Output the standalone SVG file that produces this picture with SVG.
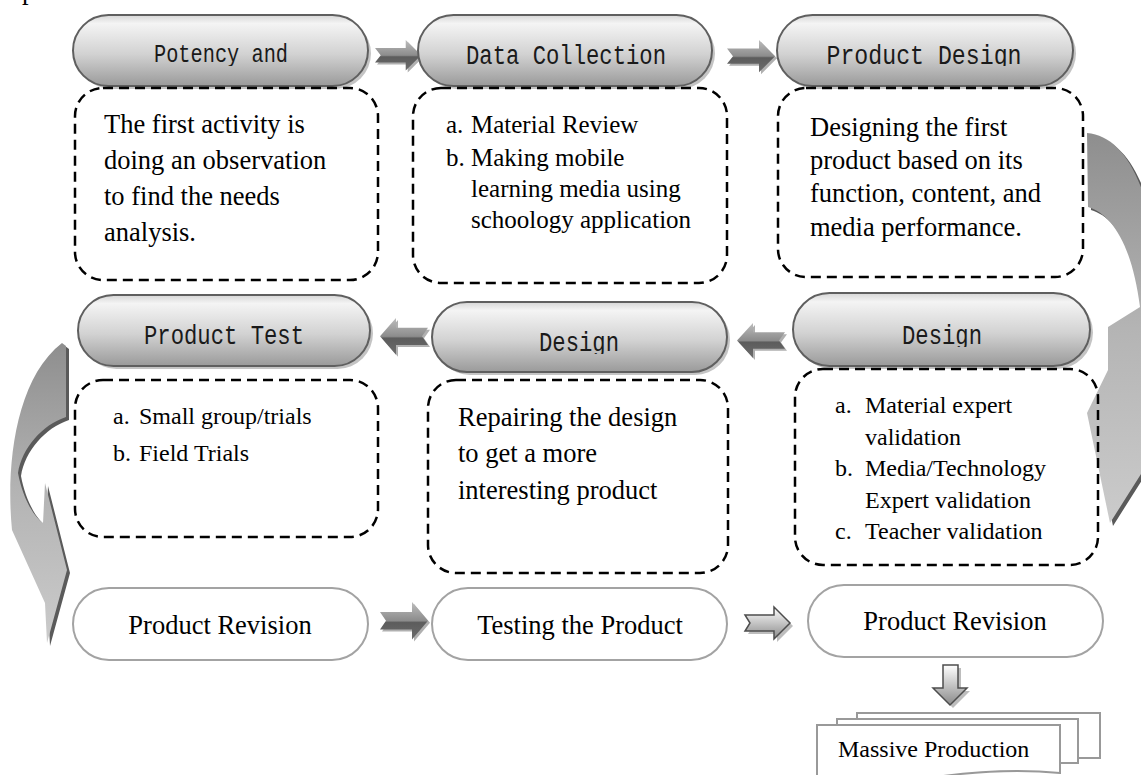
<svg xmlns="http://www.w3.org/2000/svg" xmlns:xlink="http://www.w3.org/1999/xlink" width="1141" height="775" viewBox="0 0 1141 775">
<defs>
  <linearGradient id="pillGrad" x1="0" y1="0" x2="0" y2="1">
    <stop offset="0" stop-color="#d6d6d6"/>
    <stop offset="0.12" stop-color="#f4f4f4"/>
    <stop offset="0.55" stop-color="#d2d2d2"/>
    <stop offset="1" stop-color="#9a9a9a"/>
  </linearGradient>
  <linearGradient id="arrGrad" x1="0" y1="0" x2="0" y2="1">
    <stop offset="0" stop-color="#bdbdbd"/>
    <stop offset="0.5" stop-color="#8c8c8c"/>
    <stop offset="0.55" stop-color="#5c5c5c"/>
    <stop offset="1" stop-color="#6c6c6c"/>
  </linearGradient>
  <linearGradient id="outArrGrad" x1="0" y1="0" x2="0" y2="1">
    <stop offset="0" stop-color="#ffffff"/>
    <stop offset="1" stop-color="#8a8a8a"/>
  </linearGradient>
  <linearGradient id="curveGrad" x1="0" y1="0" x2="0" y2="1">
    <stop offset="0" stop-color="#8e8e8e"/>
    <stop offset="0.5" stop-color="#b4b4b4"/>
    <stop offset="1" stop-color="#cbcbcb"/>
  </linearGradient>
  <path id="blockArrow" d="M0,9 L32,9 L32,0 L48,17 L32,34 L32,25 L0,25 L6,17 Z"/>
  <path id="outArrow" d="M0,8 L29,8 L29,0 L45,16 L29,32 L29,24 L0,24 L5,16 Z"/>
  <clipPath id="clipRow1"><rect x="0" y="0" width="1141" height="66"/></clipPath>
  <clipPath id="clipP5"><rect x="0" y="280" width="1141" height="74"/></clipPath>
  <clipPath id="clipP6"><rect x="0" y="280" width="1141" height="67"/></clipPath>
</defs>
<style>
  .pill { fill: url(#pillGrad); stroke: #5f5f5f; stroke-width: 2; }
  .pshadow { fill: #c4c4c4; }
  .plain { fill: #ffffff; stroke: #a3a3a3; stroke-width: 2; }
  .dash { fill: none; stroke: #000; stroke-width: 2.5; stroke-dasharray: 10 6; }
  .mono { font-family: "Liberation Mono", "DejaVu Sans Mono", monospace; font-size: 27px; fill: #1a1a1a; text-anchor: middle; }
  .serif { font-family: "Liberation Serif", "Times New Roman", serif; fill: #000; }
  .t26 { font-size: 26.5px; }
  .t25 { font-size: 25px; }
  .t24 { font-size: 24px; }
  .tp { font-size: 26.5px; }
  .mid { text-anchor: middle; }
  .arr { fill: url(#arrGrad); }
  .arrsh { fill: #b0b0b0; }
  .oarr { fill: url(#outArrGrad); stroke: #4d4d4d; stroke-width: 1.5; }
  .oarrsh { fill: #bdbdbd; }
  .doc { fill: #ffffff; stroke: #999; stroke-width: 2; }
  .curve { fill: url(#curveGrad); }
  .curvesh { fill: #5a5a5a; }
</style>

<text class="serif t26" x="22" y="-1">p</text>

<!-- connectors -->
<g id="connectors">
  <g id="arrow-1">
    <use href="#blockArrow" class="arrsh" transform="translate(377,42) scale(0.96,0.9)"/>
    <use href="#blockArrow" class="arr" transform="translate(375,40) scale(0.96,0.9)"/>
  </g>
  <g id="arrow-2">
    <use href="#blockArrow" class="arrsh" transform="translate(729,42) scale(1,0.95)"/>
    <use href="#blockArrow" class="arr" transform="translate(727,40) scale(1,0.95)"/>
  </g>
  <g id="arrow-3">
    <use href="#blockArrow" class="arrsh" transform="translate(430,320) scale(-1,1.08)"/>
    <use href="#blockArrow" class="arr" transform="translate(428,318) scale(-1,1.08)"/>
  </g>
  <g id="arrow-4">
    <use href="#blockArrow" class="arrsh" transform="translate(787,325) scale(-1,1.03)"/>
    <use href="#blockArrow" class="arr" transform="translate(785,323) scale(-1,1.03)"/>
  </g>
  <g id="arrow-5">
    <use href="#blockArrow" class="arrsh" transform="translate(382,604) scale(1,1.1)"/>
    <use href="#blockArrow" class="arr" transform="translate(380,602) scale(1,1.1)"/>
  </g>
  <g id="arrow-6">
    <use href="#outArrow" class="oarrsh" transform="translate(748,610)"/>
    <use href="#outArrow" class="oarr" transform="translate(745,607)"/>
  </g>
  <g id="arrow-down">
    <path class="oarrsh" d="M946,668 L961,668 L961,691 L970,691 L953,708 L936,691 L946,691 Z"/>
    <path class="oarr" d="M943,665 L958,665 L958,688 L967,688 L950,705 L933,688 L943,688 Z"/>
  </g>
  <g id="curve-right">
    <path class="curvesh" d="M1090,136 C1118,139 1138,163 1153,218 L1178,423 L1113,526 L1090,416 L1111,373 L1111,330 L1143,310 C1135,248 1115,217 1091,210 Z"/>
    <path class="curve" d="M1087,133 C1115,136 1135,160 1150,215 L1175,420 L1110,523 L1087,413 L1108,370 L1108,327 L1140,307 C1132,245 1112,214 1088,207 Z"/>
  </g>
  <g id="curve-left">
    <path class="curvesh" d="M65,346 L69,349 L69,420 C45,428 25,451 21,476 C25,498 35,518 46,526 L48,486 L70,573 L50,646 L48,606 L15,533 C9,473 17,383 65,346 Z"/>
    <path class="curve" d="M62,343 L66,346 L66,417 C42,425 22,448 18,473 C22,495 32,515 43,523 L45,483 L67,570 L47,643 L45,603 L12,530 C6,470 14,380 62,343 Z"/>
  </g>
</g>

<!-- row 1 -->
<g id="node-potency">
  <rect class="pshadow" x="76" y="18" width="295" height="71" rx="35.5"/>
  <rect class="pill" x="73" y="15" width="295" height="71" rx="35.5"/>
  <text class="mono" x="221" y="62" style="font-size:25px" textLength="134" lengthAdjust="spacingAndGlyphs" clip-path="url(#clipRow1)">Potency and</text>
</g>
<g id="node-data">
  <rect class="pshadow" x="421" y="18" width="294" height="71" rx="35.5"/>
  <rect class="pill" x="418" y="15" width="294" height="71" rx="35.5"/>
  <text class="mono" x="566" y="64" textLength="200" lengthAdjust="spacingAndGlyphs" clip-path="url(#clipRow1)">Data Collection</text>
</g>
<g id="node-product-design">
  <rect class="pshadow" x="780" y="18" width="296" height="71" rx="35.5"/>
  <rect class="pill" x="777" y="15" width="296" height="71" rx="35.5"/>
  <text class="mono" x="924" y="64" textLength="195" lengthAdjust="spacingAndGlyphs" clip-path="url(#clipRow1)">Product Design</text>
</g>

<g id="box-potency">
  <rect class="dash" x="75" y="88" width="303" height="192" rx="28"/>
  <text class="serif t26" x="104" y="133">The first activity is</text>
  <text class="serif t26" x="104" y="169">doing an observation</text>
  <text class="serif t26" x="104" y="205">to find the needs</text>
  <text class="serif t26" x="104" y="241">analysis.</text>
</g>
<g id="box-data">
  <rect class="dash" x="413" y="88" width="314" height="195" rx="28"/>
  <text class="serif t25" x="446" y="133">a.</text>
  <text class="serif t25" x="471" y="133">Material Review</text>
  <text class="serif t25" x="446" y="166">b.</text>
  <text class="serif t25" x="471" y="166">Making mobile</text>
  <text class="serif t25" x="471" y="197">learning media using</text>
  <text class="serif t25" x="471" y="228">schoology application</text>
</g>
<g id="box-product-design">
  <rect class="dash" x="778" y="88" width="305" height="189" rx="28"/>
  <text class="serif t26" x="810" y="136">Designing the first</text>
  <text class="serif t26" x="810" y="169">product based on its</text>
  <text class="serif t26" x="810" y="202">function, content, and</text>
  <text class="serif t26" x="810" y="236">media performance.</text>
</g>

<!-- row 2 -->
<g id="node-product-test">
  <rect class="pshadow" x="81" y="298" width="292" height="71" rx="35.5"/>
  <rect class="pill" x="78" y="295" width="292" height="71" rx="35.5"/>
  <text class="mono" x="224" y="344" textLength="160" lengthAdjust="spacingAndGlyphs">Product Test</text>
</g>
<g id="node-design-mid">
  <rect class="pshadow" x="435" y="305" width="295" height="70" rx="35"/>
  <rect class="pill" x="432" y="302" width="295" height="70" rx="35"/>
  <text class="mono" x="579" y="351" textLength="80" lengthAdjust="spacingAndGlyphs" clip-path="url(#clipP5)">Design</text>
</g>
<g id="node-design-right">
  <rect class="pshadow" x="796" y="296" width="297" height="73" rx="36.5"/>
  <rect class="pill" x="793" y="293" width="297" height="73" rx="36.5"/>
  <text class="mono" x="942" y="344" textLength="80" lengthAdjust="spacingAndGlyphs" clip-path="url(#clipP6)">Design</text>
</g>

<g id="box-product-test">
  <rect class="dash" x="75" y="380" width="303" height="157" rx="28"/>
  <text class="serif t24" x="113" y="424">a.</text>
  <text class="serif t24" x="139" y="424">Small group/trials</text>
  <text class="serif t24" x="113" y="461">b.</text>
  <text class="serif t24" x="139" y="461">Field Trials</text>
</g>
<g id="box-design-mid">
  <rect class="dash" x="428" y="380" width="300" height="193" rx="28"/>
  <text class="serif t26" x="458" y="426">Repairing the design</text>
  <text class="serif t26" x="458" y="462">to get a more</text>
  <text class="serif t26" x="458" y="499">interesting product</text>
</g>
<g id="box-design-right">
  <rect class="dash" x="795" y="369" width="303" height="196" rx="28"/>
  <text class="serif t24" x="835" y="413">a.</text>
  <text class="serif t24" x="865" y="413">Material expert</text>
  <text class="serif t24" x="865" y="445">validation</text>
  <text class="serif t24" x="835" y="476">b.</text>
  <text class="serif t24" x="865" y="476">Media/Technology</text>
  <text class="serif t24" x="865" y="508">Expert validation</text>
  <text class="serif t24" x="835" y="539">c.</text>
  <text class="serif t24" x="865" y="539">Teacher validation</text>
</g>

<!-- row 3 -->
<g id="node-revision-1">
  <rect class="plain" x="73" y="588" width="295" height="72" rx="36"/>
  <text class="serif tp mid" x="220" y="634">Product Revision</text>
</g>
<g id="node-testing">
  <rect class="plain" x="432" y="588" width="295" height="72" rx="36"/>
  <text class="serif tp mid" x="580" y="634">Testing the Product</text>
</g>
<g id="node-revision-2">
  <rect class="plain" x="808" y="585" width="295" height="72" rx="36"/>
  <text class="serif tp mid" x="955" y="630">Product Revision</text>
</g>

<g id="node-massive">
  <path class="doc" d="M857,713 H1100 V758 H857 Z"/>
  <path class="doc" d="M837,719 H1078 V763 H837 Z"/>
  <path class="doc" d="M817,725 H1060 V773 C1010,768 960,772 905,782 L817,782 Z"/>
  <text class="serif t24" x="838" y="757">Massive Production</text>
</g>
</svg>
